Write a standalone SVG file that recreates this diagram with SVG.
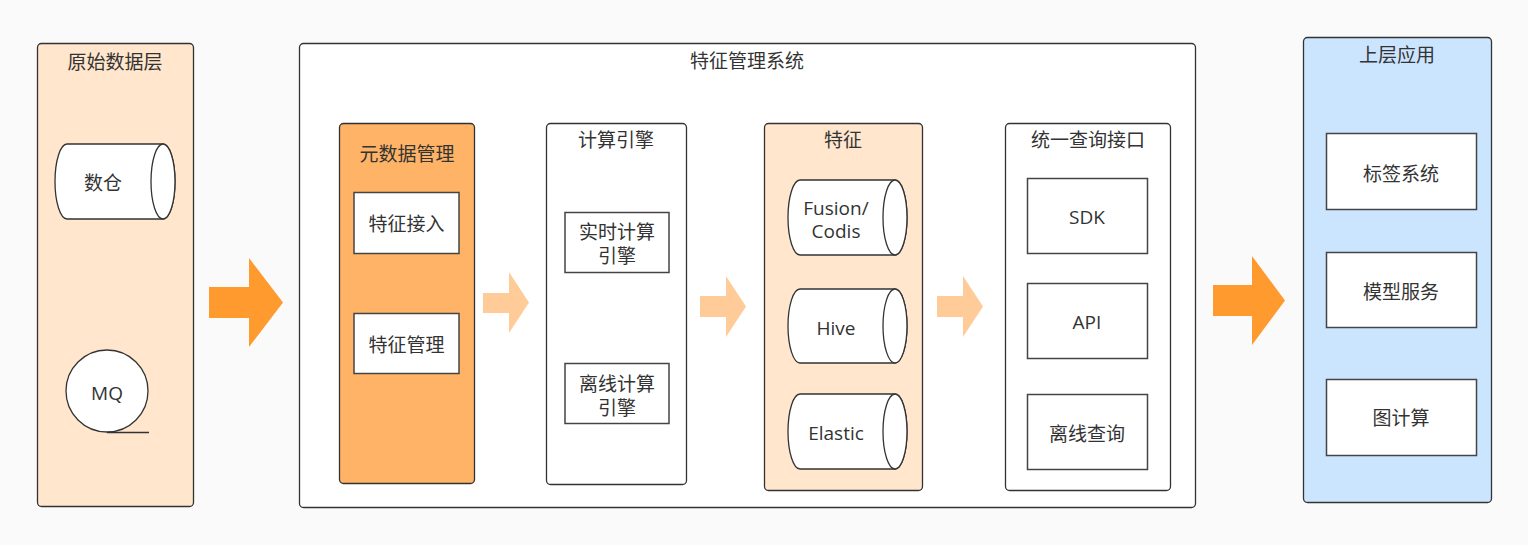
<svg xmlns="http://www.w3.org/2000/svg" width="1528" height="545" viewBox="0 0 1528 545">
<style>
text{font-family:"Open Sans","Noto Sans CJK SC",sans-serif;font-size:19px;fill:#333;text-anchor:middle;dominant-baseline:central}
.c{fill:#fff;stroke:#333;stroke-width:1.3}
.b{fill:#fff;stroke:#444;stroke-width:1.5}
.arrB{fill:#ff9a2e}
.arrS{fill:#ffcc99}
</style>
<rect width="1528" height="545" fill="#fafafa"/>
<g id="raw-layer">
<rect x="37.5" y="43.5" width="156" height="463" rx="4" fill="#ffe6cc" stroke="#333" stroke-width="1.3"/>
<text x="115" y="62">原始数据层</text>
</g>
<g id="shucang">
<path class="c" d="M67,144 H163 A12,37.5 0 0 1 163,219 H67 A12,37.5 0 0 1 67,144 Z"/>
<ellipse class="c" cx="163" cy="181.5" rx="12" ry="37.5"/>
<text x="103" y="183">数仓</text>
</g>
<g id="mq">
<circle class="c" cx="107" cy="391" r="41"/>
<line x1="107" y1="432.5" x2="149" y2="432.5" stroke="#333" stroke-width="1.3"/>
<text x="107" y="393">MQ</text>
</g>
<g id="fms">
<rect x="299.5" y="43.5" width="896" height="464" rx="4" fill="#fff" stroke="#333" stroke-width="1.3"/>
<text x="747" y="61">特征管理系统</text>
</g>
<g id="metadata">
<rect x="339.5" y="123.5" width="135" height="360" rx="4" fill="#ffb366" stroke="#333" stroke-width="1.3"/>
<text x="407" y="154">元数据管理</text>
</g>
<g id="feature-ingest">
<rect class="b" x="354" y="192.5" width="105" height="61"/>
<text x="406.5" y="224">特征接入</text>
</g>
<g id="feature-manage">
<rect class="b" x="354" y="313.5" width="105" height="60"/>
<text x="406.5" y="345">特征管理</text>
</g>
<g id="compute">
<rect x="546.5" y="123.5" width="140" height="361" rx="4" fill="#fff" stroke="#333" stroke-width="1.3"/>
<text x="616" y="140">计算引擎</text>
</g>
<g id="realtime">
<rect class="b" x="565" y="212.5" width="104" height="60"/>
<text x="617" y="232">实时计算</text>
<text x="617" y="256">引擎</text>
</g>
<g id="offline">
<rect class="b" x="565" y="363.5" width="104" height="60"/>
<text x="617" y="384">离线计算</text>
<text x="617" y="408">引擎</text>
</g>
<g id="feature">
<rect x="764.5" y="123.5" width="158" height="367" rx="4" fill="#ffe6cc" stroke="#333" stroke-width="1.3"/>
<text x="843" y="140">特征</text>
</g>
<g id="fusion">
<path class="c" d="M800,180 H895 A12,37.5 0 0 1 895,255 H800 A12,37.5 0 0 1 800,180 Z"/>
<ellipse class="c" cx="895" cy="217.5" rx="12" ry="37.5"/>
<text x="836" y="208">Fusion/</text>
<text x="836" y="231">Codis</text>
</g>
<g id="hive">
<path class="c" d="M800,289 H895 A12,37 0 0 1 895,363 H800 A12,37 0 0 1 800,289 Z"/>
<ellipse class="c" cx="895" cy="326" rx="12" ry="37"/>
<text x="836" y="328">Hive</text>
</g>
<g id="elastic">
<path class="c" d="M800,394 H895 A12,37.5 0 0 1 895,469 H800 A12,37.5 0 0 1 800,394 Z"/>
<ellipse class="c" cx="895" cy="431.5" rx="12" ry="37.5"/>
<text x="836" y="433">Elastic</text>
</g>
<g id="query">
<rect x="1005.5" y="123.5" width="165" height="367" rx="4" fill="#fff" stroke="#333" stroke-width="1.3"/>
<text x="1088" y="140">统一查询接口</text>
</g>
<g id="sdk">
<rect class="b" x="1027.5" y="178.5" width="120" height="75"/>
<text x="1087" y="217">SDK</text>
</g>
<g id="api">
<rect class="b" x="1027.5" y="283.5" width="120" height="75"/>
<text x="1087" y="322">API</text>
</g>
<g id="offline-query">
<rect class="b" x="1027.5" y="394.5" width="120" height="75"/>
<text x="1087" y="434">离线查询</text>
</g>
<g id="upper">
<rect x="1303.5" y="37.5" width="188" height="465" rx="4" fill="#cce5ff" stroke="#333" stroke-width="1.3"/>
<text x="1397" y="55">上层应用</text>
</g>
<g id="tag">
<rect class="b" x="1326.5" y="133.5" width="150" height="76"/>
<text x="1401" y="174">标签系统</text>
</g>
<g id="model">
<rect class="b" x="1326.5" y="252.5" width="150" height="75"/>
<text x="1401" y="292">模型服务</text>
</g>
<g id="graph">
<rect class="b" x="1326.5" y="379.5" width="150" height="76"/>
<text x="1401" y="418">图计算</text>
</g>
<g id="connectors">
<polygon class="arrB" points="209,287 249,287 249,258 283,302.5 249,347 249,318 209,318"/>
<polygon class="arrS" points="483,293 509,293 509,272 529,302.5 509,333 509,313 483,313"/>
<polygon class="arrS" points="700,296 726,296 726,276 746,306.5 726,337 726,317 700,317"/>
<polygon class="arrS" points="937,296 963,296 963,276 983,306.5 963,337 963,317 937,317"/>
<polygon class="arrB" points="1213,285 1252,285 1252,256 1285,300.5 1252,345 1252,316 1213,316"/>
</g>
</svg>
